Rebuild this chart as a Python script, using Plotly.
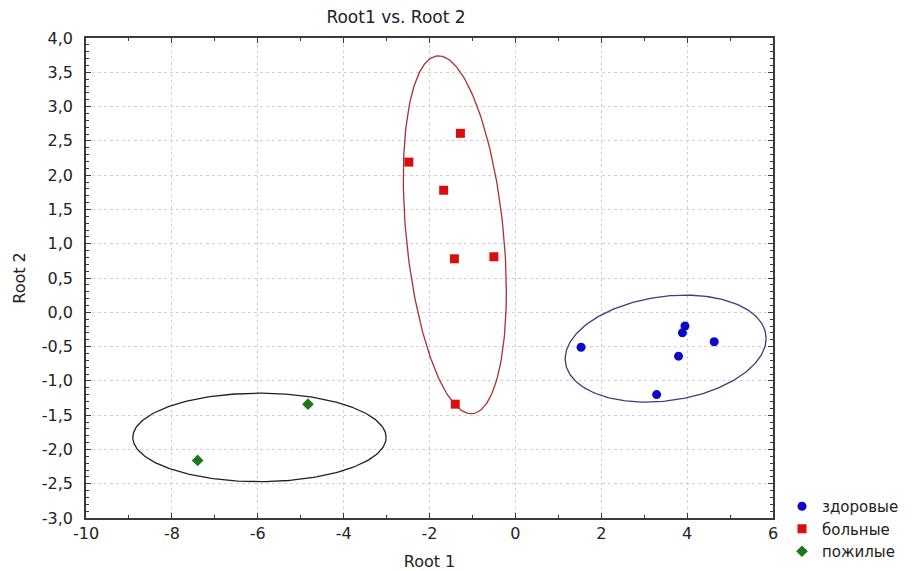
import numpy as np
import plotly.graph_objects as go

# ---- data ----
healthy_x = [1.53, 3.95, 3.89, 4.63, 3.80, 3.29]
healthy_y = [-0.51, -0.20, -0.30, -0.43, -0.64, -1.20]

sick_x = [-1.28, -2.48, -1.67, -1.42, -0.50, -1.40]
sick_y = [2.61, 2.19, 1.78, 0.78, 0.81, -1.34]

elderly_x = [-4.83, -7.40]
elderly_y = [-1.34, -2.16]

group_names = ["здоровые", "больные", "пожилые"]

# ellipse parameters: center x, center y, half x-extent, half y-extent, x-offset of the top point
ellipse_healthy = [3.50, -0.53, 2.34, 0.78, 0.45]
ellipse_sick = [-1.41, 1.13, 1.20, 2.61, -0.38]
ellipse_elderly = [-5.96, -1.825, 2.95, 0.645, 0.0]

x_tick_vals = [-10, -8, -6, -4, -2, 0, 2, 4, 6]
x_tick_text = ["-10", "-8", "-6", "-4", "-2", "0", "2", "4", "6"]
y_tick_vals = [-3.0, -2.5, -2.0, -1.5, -1.0, -0.5, 0.0, 0.5, 1.0, 1.5, 2.0, 2.5, 3.0, 3.5, 4.0]
y_tick_text = ["-3,0", "-2,5", "-2,0", "-1,5", "-1,0", "-0,5", "0,0", "0,5",
               "1,0", "1,5", "2,0", "2,5", "3,0", "3,5", "4,0"]


def ellipse_outline(params, n=240):
    cx, cy, w, h, top_dx = params
    sxy = top_dx * h
    m = np.array([[w * w, sxy], [sxy, h * h]])
    L = np.linalg.cholesky(m)
    t = np.linspace(0, 2 * np.pi, n)
    pts = L @ np.vstack([np.cos(t), np.sin(t)])
    return cx + pts[0], cy + pts[1]


FONT = "DejaVu Sans"
fig = go.Figure()

for params, col in [(ellipse_healthy, "#3c3c78"), (ellipse_sick, "#a83232"), (ellipse_elderly, "#202020")]:
    ex, ey = ellipse_outline(params)
    fig.add_trace(go.Scatter(x=ex, y=ey, mode="lines", line=dict(color=col, width=1.3),
                             showlegend=False, hoverinfo="skip"))

fig.add_trace(go.Scatter(x=healthy_x, y=healthy_y, mode="markers", name=group_names[0],
                         marker=dict(symbol="circle", size=9, color="#0a0ac8")))
fig.add_trace(go.Scatter(x=sick_x, y=sick_y, mode="markers", name=group_names[1],
                         marker=dict(symbol="square", size=9, color="#d80f0f")))
fig.add_trace(go.Scatter(x=elderly_x, y=elderly_y, mode="markers", name=group_names[2],
                         marker=dict(symbol="diamond", size=9, color="#1b7a1b")))

axis_common = dict(
    showline=True, linecolor="#3a3a3a", linewidth=1.5, mirror="ticks",
    ticks="inside", ticklen=5, tickcolor="#3a3a3a", tickwidth=1.2,
    showgrid=True, gridcolor="#d2d2d2", griddash="dot", gridwidth=1,
    zeroline=False, tickfont=dict(family=FONT, size=16, color="#222"),
    tickmode="array",
)

fig.update_xaxes(
    range=[-10, 6], tickvals=x_tick_vals, ticktext=x_tick_text,
    minor=dict(tickmode="linear", tick0=0, dtick=1, ticks="inside", ticklen=3,
               tickcolor="#3a3a3a", showgrid=False),
    title=dict(text="Root 1", font=dict(family=FONT, size=16, color="#222"), standoff=15),
    **axis_common,
)
fig.update_yaxes(
    range=[-3, 4], tickvals=y_tick_vals, ticktext=y_tick_text,
    minor=dict(tickmode="linear", tick0=0, dtick=0.1, ticks="inside", ticklen=3,
               tickcolor="#3a3a3a", showgrid=False),
    ticklabelstandoff=8,
    title=dict(text="Root 2", font=dict(family=FONT, size=16, color="#222"), standoff=12),
    **axis_common,
)

fig.update_layout(
    width=916, height=571,
    margin=dict(l=86, r=143, t=38, b=53, autoexpand=False),
    paper_bgcolor="white", plot_bgcolor="white",
    title=dict(text="Root1 vs. Root 2", x=396 / 916, xanchor="center", xref="container",
               y=1 - 17 / 571, yanchor="middle", yref="container",
               font=dict(family=FONT, size=17, color="#222")),
    legend=dict(x=(782 - 86) / 687, xanchor="left", y=(518 - 490) / 480, yanchor="top",
                font=dict(family=FONT, size=15, color="#222"), bgcolor="rgba(0,0,0,0)",
                tracegroupgap=0, itemwidth=30),
    font=dict(family=FONT),
)

fig.write_html("out.html")
